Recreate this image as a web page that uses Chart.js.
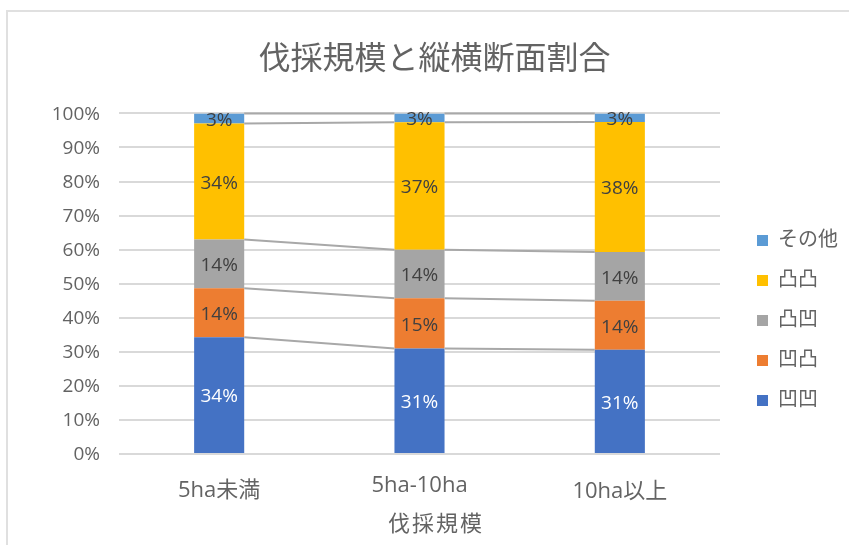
<!DOCTYPE html>
<html lang="ja">
<head>
<meta charset="utf-8">
<title>伐採規模と縦横断面割合</title>
<script src="https://cdn.jsdelivr.net/npm/chart.js@4"></script>
<style>
    html, body { margin: 0; background: #fff; overflow: hidden; }
    #frame { position: absolute; left: 6px; top: 10px; width: 843px; height: 535px; border-left: 2px solid #e0e0e0; border-top: 2px solid #e0e0e0; box-sizing: border-box; }
    #chart { position: absolute; left: 0; top: 0; }
</style>
</head>
<body>
<div id="frame"></div>
<canvas id="chart" width="849" height="545"></canvas>
<script>
const categorias = ['5ha未満', '5ha-10ha', '10ha以上'];
const titulo = '伐採規模と縦横断面割合';
const tituloEixoX = '伐採規模';

const otsuOtsu = [34.3, 31.0, 30.6];   // 凹凹
const otsuTotsu = [14.4, 14.7, 14.4];  // 凹凸
const totsuOtsu = [14.3, 14.3, 14.3];  // 凸凹
const totsuTotsu = [34.0, 37.4, 38.2]; // 凸凸
const sonota = [3.0, 2.6, 2.5];        // その他

const fonte = '"Open Sans", "Noto Sans CJK JP", sans-serif';
const cinzaTexto = '#636363';

// Deslocamento vertical dos rótulos do eixo X (no original eles não ficam alinhados)
const ajusteRotulos = [0, -5, 1];

const ajustesLayout = {
    id: 'ajustesLayout',
    afterUpdate(chart) {
        const itens = chart.scales.x.getLabelItems(chart.chartArea);
        itens.forEach((item, i) => { item.options.translation[1] += ajusteRotulos[i]; });
        chart.scales.y.getLabelItems(chart.chartArea).forEach(item => { item.options.translation[1] += 1; });
        // legenda fica mais abaixo que o centro da área do gráfico
        chart.legend.top += 48;
        chart.legend.bottom += 48;
        chart.legend.left += 17;
        chart.legend.right += 17;
    }
};

// Linhas de série entre as barras + rótulos de valor + título do eixo X
const marcas = {
    id: 'marcas',
    afterDatasetsDraw(chart) {
        const ctx = chart.ctx;
        ctx.save();
        ctx.strokeStyle = '#a8a8a8';
        ctx.lineWidth = 2;
        chart.data.datasets.forEach((ds, d) => {
            const barras = chart.getDatasetMeta(d).data;
            for (let i = 0; i < barras.length - 1; i++) {
                ctx.beginPath();
                ctx.moveTo(barras[i].x + barras[i].width / 2, barras[i].y);
                ctx.lineTo(barras[i + 1].x - barras[i + 1].width / 2, barras[i + 1].y);
                ctx.stroke();
            }
        });

        ctx.font = '19px ' + fonte;
        ctx.textAlign = 'center';
        ctx.textBaseline = 'middle';
        chart.data.datasets.forEach((ds, d) => {
            ctx.fillStyle = d === 0 ? '#ffffff' : '#404040';
            chart.getDatasetMeta(d).data.forEach((barra, i) => {
                ctx.fillText(Math.round(ds.data[i]) + '%', barra.x, (barra.y + barra.base) / 2 + 2);
            });
        });

        ctx.fillStyle = cinzaTexto;
        ctx.font = '22px ' + fonte;
        ctx.letterSpacing = '2px';
        ctx.fillText(tituloEixoX, 436, 525);
        ctx.restore();
    }
};

const ctx = document.getElementById('chart').getContext('2d');
new Chart(ctx, {
    type: 'bar',
    data: {
        labels: categorias,
        datasets: [
            { label: '凹凹', data: otsuOtsu, backgroundColor: '#4472c4' },
            { label: '凹凸', data: otsuTotsu, backgroundColor: '#ed7d31' },
            { label: '凸凹', data: totsuOtsu, backgroundColor: '#a5a5a5' },
            { label: '凸凸', data: totsuTotsu, backgroundColor: '#ffc000' },
            { label: 'その他', data: sonota, backgroundColor: '#5b9bd5' }
        ]
    },
    options: {
        responsive: false,
        animation: false,
        layout: { padding: { left: 38, right: 18, top: 0, bottom: 0 } },
        datasets: { bar: { barPercentage: 0.25, categoryPercentage: 1 } },
        scales: {
            x: {
                stacked: true,
                grid: { display: false },
                border: { display: false },
                ticks: { color: cinzaTexto, font: { family: fonte, size: 22 }, padding: 16, maxRotation: 0 },
                afterFit(scale) { scale.height = 91; }
            },
            y: {
                stacked: true,
                min: 0,
                max: 100,
                grid: { color: '#d9d9d9', lineWidth: 2, drawTicks: false },
                border: { display: false },
                ticks: { stepSize: 10, color: cinzaTexto, padding: 19, font: { family: fonte, size: 19 }, callback: v => v + '%' },
                afterFit(scale) { scale.width = 81; }
            }
        },
        plugins: {
            title: {
                display: true,
                text: titulo,
                color: cinzaTexto,
                font: { family: fonte, size: 32, weight: 'normal' },
                padding: { top: 41, bottom: 34 }
            },
            legend: {
                position: 'right',
                reverse: true,
                labels: { boxWidth: 11, boxHeight: 11, padding: 20, color: cinzaTexto, font: { family: fonte, size: 20 } }
            },
            tooltip: { enabled: false }
        }
    },
    plugins: [ajustesLayout, marcas]
});
</script>
</body>
</html>
